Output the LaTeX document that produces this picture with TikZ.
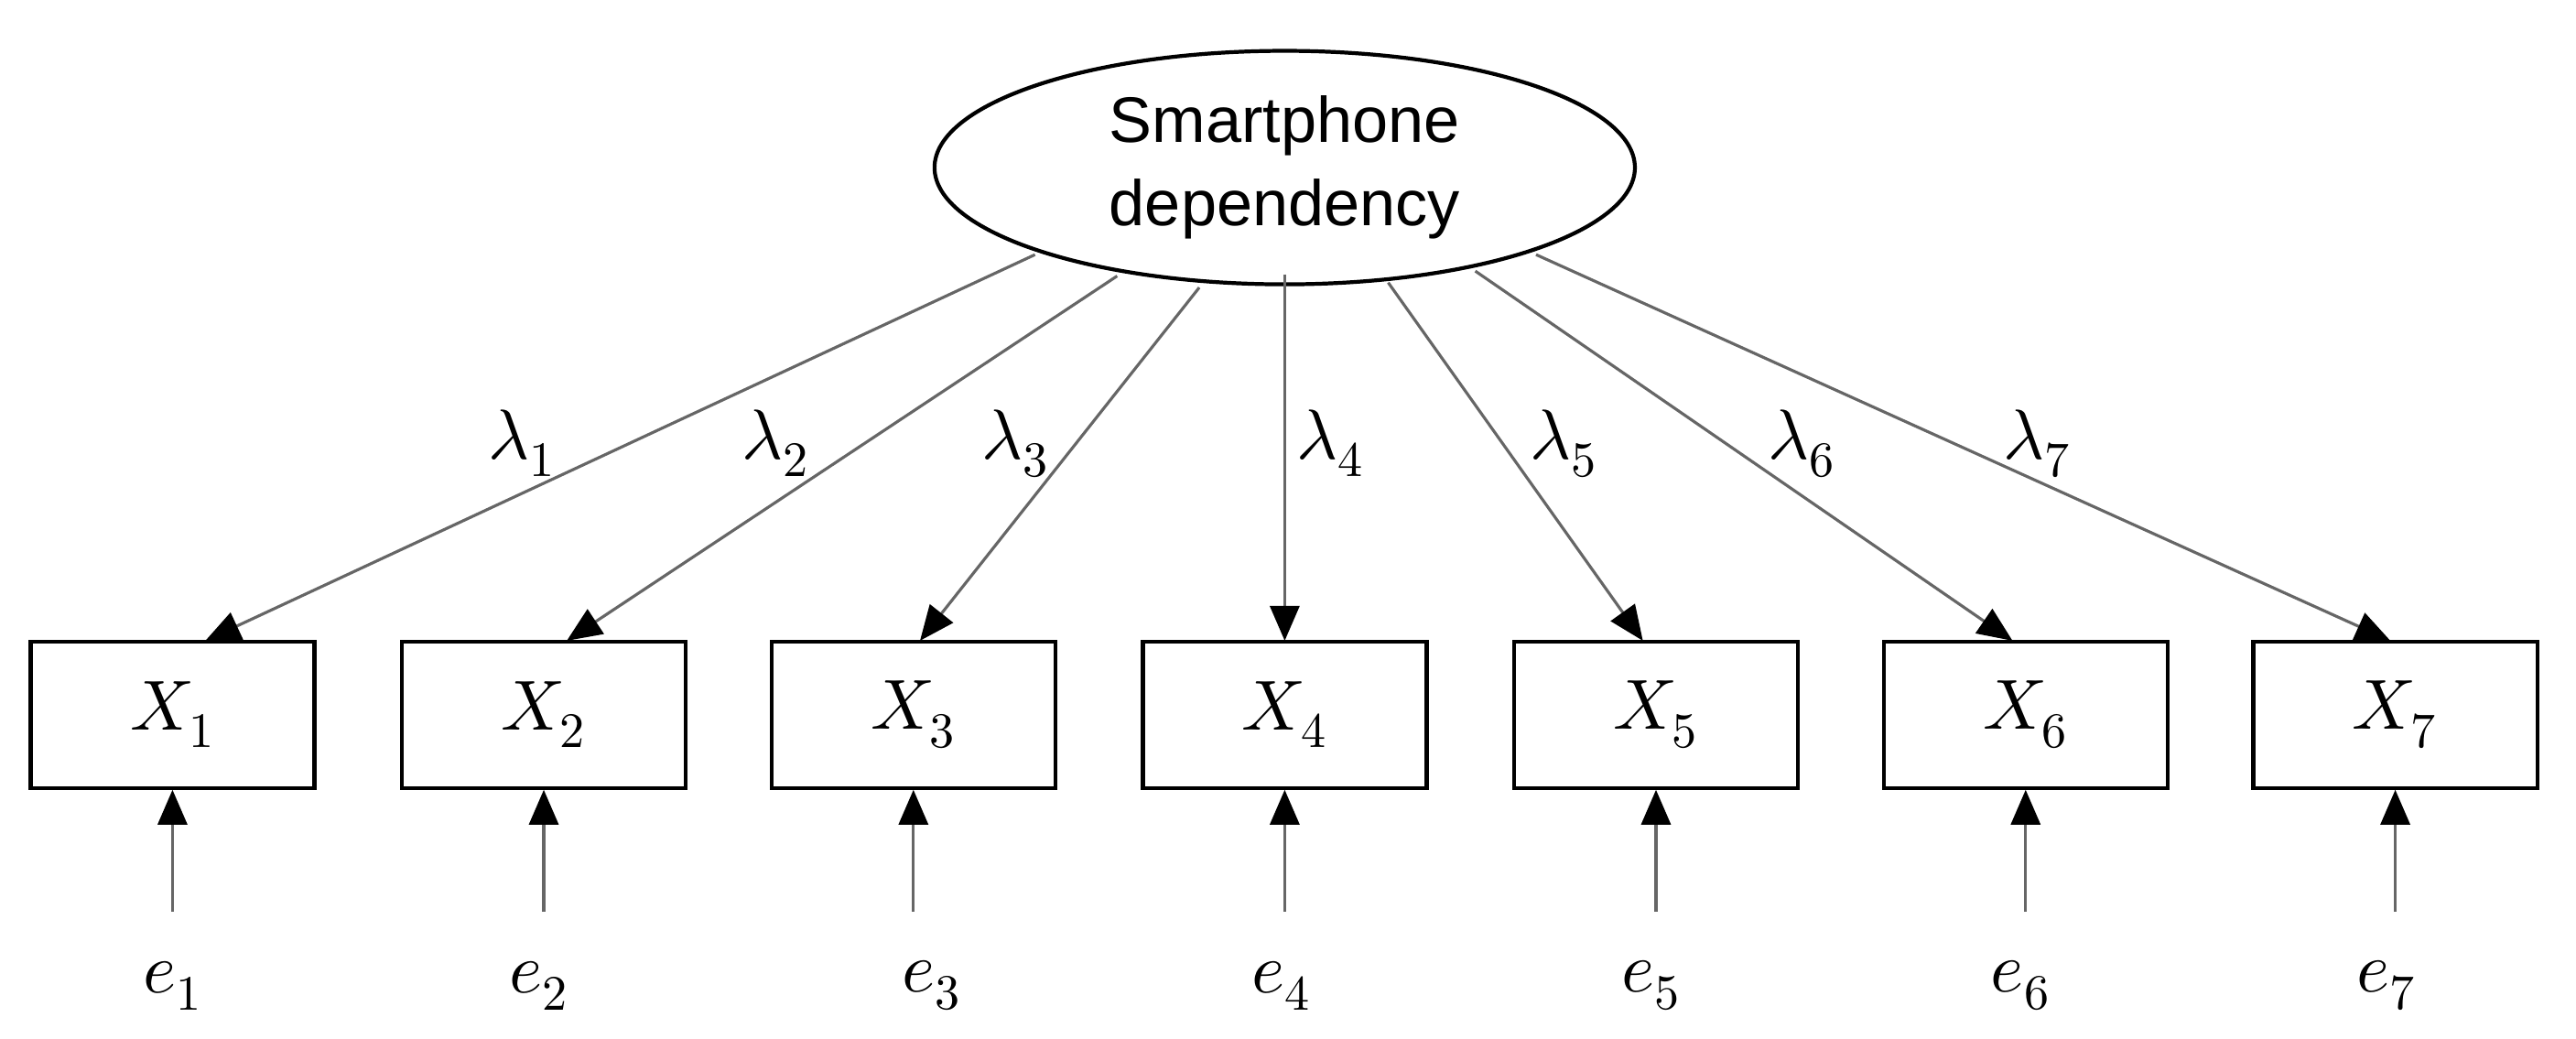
\documentclass[tikz,border=0pt]{standalone}
\usepackage{fontspec}
\setmainfont{Liberation Sans}
\usepackage{unicode-math}
\usetikzlibrary{arrows.meta,shapes.geometric}
\begin{document}
\begin{tikzpicture}[x=0.01795cm,y=-0.01795cm,
  box/.style={draw,line width=1.2pt,minimum width=3.1cm,minimum height=1.6cm,font=\fontsize{22}{26}\selectfont},
  lbl/.style={font=\fontsize{22}{26}\selectfont},
  arr/.style={draw=black!60,line width=0.9pt,-{Triangle[length=0.38cm,width=0.32cm,black]}}]
\useasboundingbox (0,0) rectangle (1568,632);
\node[draw,ellipse,line width=1.2pt,minimum width=7.65cm,minimum height=2.35cm,align=center,font=\fontsize{20}{26}\selectfont] (L) at (782,102) {Smartphone\\dependency};
\foreach \i/\x/\ex in {1/105/105,2/331/328,3/556/567,4/782/780,5/1008/1005,6/1233/1230,7/1458/1453}{
  \node[box] (X\i) at (\x,435) {$X_{\i}$};
  \node[lbl] (e\i) at (\ex,600) {$e_{\i}$};
  \coordinate (eb\i) at (\x,555);
  \draw[arr] (eb\i) -- (X\i.south);
}
\coordinate (s1) at (630,155); \coordinate (t1) at (125,390);
\coordinate (s2) at (680,168); \coordinate (t2) at (345,390);
\coordinate (s3) at (730,175); \coordinate (t3) at (560,390);
\coordinate (s4) at (782,167); \coordinate (t4) at (782,390);
\coordinate (s5) at (845,172); \coordinate (t5) at (1000,390);
\coordinate (s6) at (898,165); \coordinate (t6) at (1225,390);
\coordinate (s7) at (935,155); \coordinate (t7) at (1455,390);
\foreach \i in {1,...,7}{\draw[arr] (s\i) -- (t\i);}
\foreach \i/\x in {1/318,2/472,3/618,4/810,5/952,6/1097,7/1240}{
  \node[lbl] (l\i) at (\x,270) {$\lambda_{\i}$};
}
\end{tikzpicture}
\end{document}
